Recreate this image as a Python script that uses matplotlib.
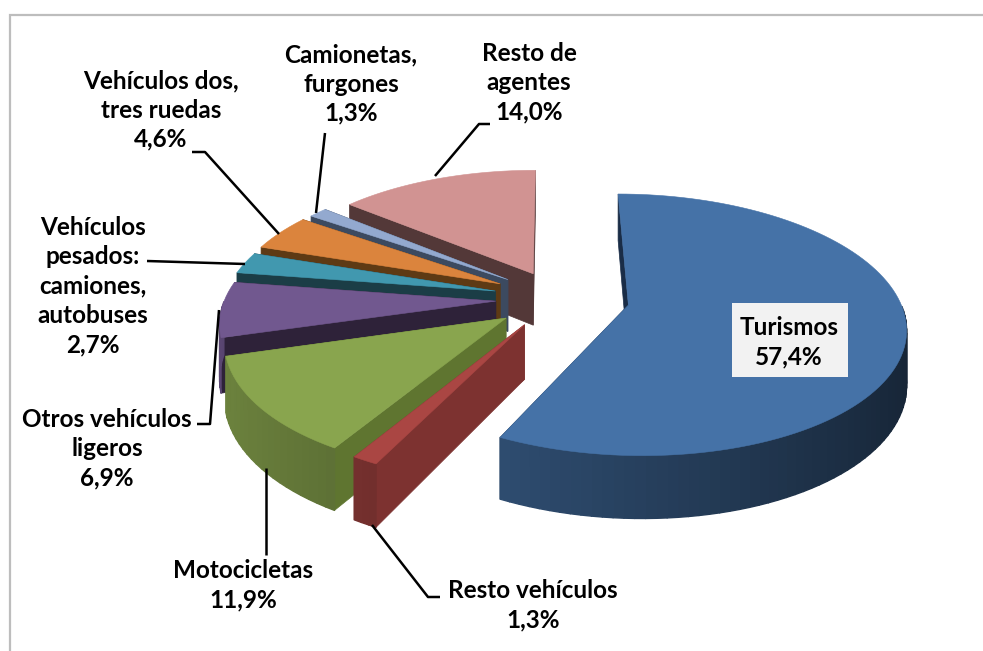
import numpy as np
import matplotlib
matplotlib.use("Agg")
import matplotlib.pyplot as plt
from matplotlib.patches import Polygon, Rectangle
from matplotlib.collections import PolyCollection
from matplotlib.colors import to_rgb

# ---- data ----
categories = ["Turismos", "Resto vehículos", "Motocicletas", "Otros vehículos ligeros",
              "Vehículos pesados: camiones, autobuses", "Vehículos dos, tres ruedas",
              "Camionetas, furgones", "Resto de agentes"]
values = [57.4, 1.3, 11.9, 6.9, 2.7, 4.6, 1.3, 14.0]
value_labels = ["57,4%", "1,3%", "11,9%", "6,9%", "2,7%", "4,6%", "1,3%", "14,0%"]

# ---- style ----
top_colors = ["#4572A7", "#AA4643", "#89A54E", "#71588F", "#4198AF", "#DB843D", "#93A9CF", "#D19392"]
face_colors = ["#1A2D47", "#7D3230", "#5F7530", "#2E2239", "#1B3D46", "#5E3A14", "#3C4A60", "#533838"]
explode = [0.295, 0.19, 0.2, 0.2, 0.21, 0.21, 0.2, 0.15]
lift = [0.04, 0.018, 0.01, 0.0, 0.0, 0.0, 0.0, 0.03]
draw_order = [7, 6, 5, 4, 3, 2, 1, 0]

# projection of the pie plane onto the picture
CX, CY, AX, BY, P, H, EY = 550, 299, 271, 126, 0.15, 53, 1.3


def project(X, Y, z=0):
    w = 1 + P * Y
    return CX + AX * X / w, CY - BY * Y / w + z * H / w


def shade(color, f):
    return tuple(c * f for c in to_rgb(color))


fig = plt.figure(figsize=(9.83, 6.51), dpi=100)
ax = fig.add_axes([0, 0, 1, 1])
ax.set_xlim(0, 983)
ax.set_ylim(651, 0)
ax.axis("off")

plt.rcParams["font.family"] = ["Lato", "DejaVu Sans"]

# frame of the chart
ax.plot([10, 10, 983], [651, 15, 15], color="#bdbdbd", lw=1.6, solid_joinstyle="miter", zorder=1)

total = sum(values)
edges = np.concatenate([[0], np.cumsum(values)]) / total * 2 * np.pi
z = 2
for i in draw_order:
    t0, t1 = edges[i], edges[i + 1]
    mid = (t0 + t1) / 2
    ax0 = explode[i] * np.sin(mid)
    ay0 = explode[i] * np.cos(mid) * EY + lift[i]
    th = np.linspace(t0, t1, max(4, int((t1 - t0) * 30)))
    X = ax0 + np.sin(th)
    Y = ay0 + np.cos(th)
    xt, yt = project(X, Y, 0)
    xb, yb = project(X, Y, 1)
    apx, apy = project(ax0, ay0, 0)
    apxb, apyb = project(ax0, ay0, 1)

    # radial faces
    for k in (-1, 0):
        ax.add_patch(Polygon([(apx, apy), (xt[k], yt[k]), (xb[k], yb[k]), (apxb, apyb)],
                             closed=True, fc=face_colors[i], ec=face_colors[i], lw=0.5, zorder=z))
    z += 1
    # outer rim (only the part facing the viewer), shaded along the arc
    quads, cols = [], []
    for j in range(len(th) - 1):
        m = (th[j] + th[j + 1]) / 2
        if np.cos(m) > 0:
            continue
        quads.append([(xt[j], yt[j]), (xt[j + 1], yt[j + 1]), (xb[j + 1], yb[j + 1]), (xb[j], yb[j])])
        cols.append(shade(top_colors[i], 0.56 - 0.24 * np.sin(m)))
    if quads:
        ax.add_collection(PolyCollection(quads, facecolors=cols, edgecolors=cols, linewidths=1.0, zorder=z))
    z += 1
    # top face
    pts = [(apx, apy)] + list(zip(xt, yt))
    ax.add_patch(Polygon(pts, closed=True, fc=top_colors[i], ec=top_colors[i], lw=0.4, zorder=z))
    z += 1

# leader lines
leaders = [
    [(372, 525), (428, 597), (440, 597)],
    [(266, 468), (266, 555)],
    [(219, 310), (210, 424), (197, 424)],
    [(245, 264), (147, 261)],
    [(279, 234), (205, 152), (192, 152)],
    [(316, 213), (325, 133)],
    [(435, 176), (479, 124), (490, 124)],
]
for line in leaders:
    xs, ys = zip(*line)
    ax.plot(xs, ys, color="black", lw=1.8, zorder=100, solid_capstyle="butt")

ax.add_patch(Rectangle((732, 303), 116, 74, fc="#F2F2F2", ec="none", zorder=99))

txt = dict(fontsize=17.5, fontweight="bold", color="#000000", ha="center", va="center",
           linespacing=1.33, zorder=101)
ax.text(789, 342, f"{categories[0]}\n{value_labels[0]}", **txt)
ax.text(533, 605, f"{categories[1]}\n{value_labels[1]}", **txt)
ax.text(243, 585, f"{categories[2]}\n{value_labels[2]}", **txt)
ax.text(107, 449, f"Otros vehículos\nligeros\n{value_labels[3]}", **txt)
ax.text(93, 286, f"Vehículos\npesados:\ncamiones,\nautobuses\n{value_labels[4]}", **txt)
ax.text(161, 110, f"Vehículos dos,\ntres ruedas\n{value_labels[5]}", **txt)
ax.text(351, 84, f"Camionetas,\nfurgones\n{value_labels[6]}", **txt)
ax.text(529, 83, f"Resto de\nagentes\n{value_labels[7]}", **txt)

fig.savefig("out.png", dpi=100)
